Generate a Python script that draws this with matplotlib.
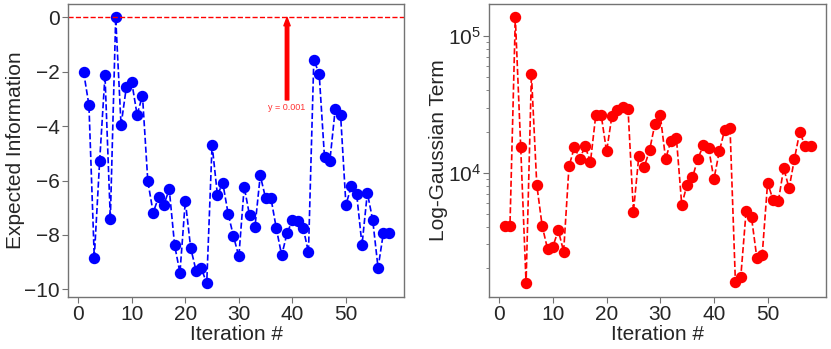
import numpy as np
import matplotlib
matplotlib.use("Agg")
import matplotlib.pyplot as plt

plt.rcParams['font.family'] = ['Liberation Sans', 'DejaVu Sans']
plt.rcParams['mathtext.fontset'] = 'custom'
plt.rcParams['mathtext.rm'] = 'Liberation Sans'
plt.rcParams['mathtext.it'] = 'Liberation Sans:italic'
plt.rcParams['axes.unicode_minus'] = True

iters = np.arange(1, 59)
expected_info = [-2.00, -3.22, -8.83, -5.29, -2.13, -7.41, 0.00, -3.96, -2.55, -2.38,
                 -3.58, -2.87, -6.03, -7.18, -6.61, -6.89, -6.32, -8.37, -9.39, -6.75,
                 -8.47, -9.31, -9.23, -9.78, -4.68, -6.53, -6.09, -7.22, -8.05, -8.79,
                 -6.23, -7.28, -7.72, -5.81, -6.65, -6.65, -7.76, -8.75, -7.94, -7.45,
                 -7.49, -7.73, -8.64, -1.56, -2.07, -5.15, -5.27, -3.37, -3.58, -6.89,
                 -6.21, -6.49, -8.37, -6.45, -7.45, -9.21, -7.92, -7.92]
log_gauss = [4100, 4100, 136800, 15490, 1550, 52600, 8130, 4080, 2770, 2880,
             3790, 2650, 11120, 15400, 12700, 15560, 12030, 26650, 26360, 14300,
             26070, 28980, 30460, 29170, 5170, 13150, 11000, 14550, 22650, 26360,
             12600, 17200, 18100, 5840, 8170, 9240, 12600, 15830, 15200, 8990,
             14300, 20600, 21300, 1575, 1730, 5250, 4720, 2370, 2520, 8450,
             6350, 6170, 10820, 7680, 12650, 20000, 15560, 15560]
best_iter = 39
best_val = 0.001

fig = plt.figure(figsize=(8.31, 3.49), dpi=100)
ax1 = fig.add_axes([0.0822, 0.150, 0.404, 0.838])
ax2 = fig.add_axes([0.5888, 0.150, 0.405, 0.838])

spine_c = '0.45'
text_c = '0.15'

ax1.plot(iters, expected_info, 'b--o', lw=1.2, ms=7.2)
ax1.axhline(0, color='red', ls='--', lw=1)
ax1.annotate('y = %.3f' % best_val, xy=(best_iter, best_val), xytext=(best_iter, -3.3),
             ha='center', va='center', fontsize=6.5, color='red', alpha=0.8,
             arrowprops=dict(color='red', width=2.5, headwidth=4.5, headlength=6, shrink=0.0))
ax1.set_ylabel('Expected Information', fontsize=15, color=text_c)

ax2.plot(iters, log_gauss, 'r--o', lw=1.2, ms=7.2)
ax2.set_yscale('log')
ax2.set_ylabel('Log-Gaussian Term', fontsize=15, color=text_c)

for ax in (ax1, ax2):
    ax.set_xticks([0, 10, 20, 30, 40, 50])
    ax.set_xlabel('Iteration #', fontsize=15, color=text_c, labelpad=1)
    for s in ax.spines.values():
        s.set_color(spine_c)
        s.set_linewidth(1)
    ax.tick_params(which='both', colors=spine_c, labelcolor=text_c, labelsize=15, direction='out')
    ax.tick_params(which='major', length=4, pad=2)
    ax.tick_params(which='minor', length=2.5)

ax1.yaxis.set_label_coords(-0.129, 0.5)
ax2.yaxis.set_label_coords(-0.123, 0.5)

fig.savefig('out.png', dpi=100)
